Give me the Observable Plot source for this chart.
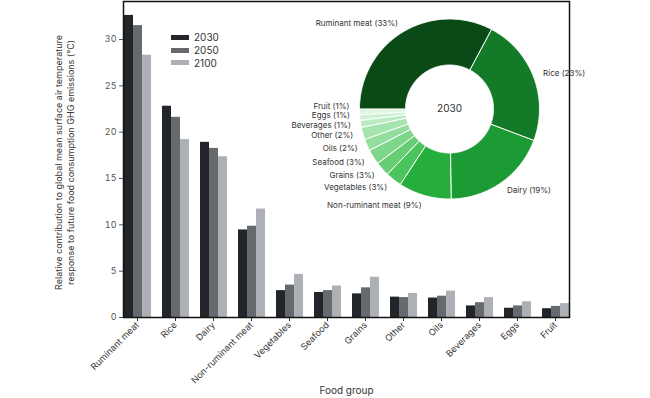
<!DOCTYPE html>
<html>
<head>
<meta charset="utf-8">
<script src="https://cdn.jsdelivr.net/npm/d3@7"></script>
<script src="https://cdn.jsdelivr.net/npm/@observablehq/plot@0.6"></script>
<style>
  body { margin: 0; background: #fff; }
  #wrap { position: relative; width: 650px; height: 398px; font-family: Inter, "Noto Sans", sans-serif; }
  #bars, #donut, #legend { position: absolute; }
  #bars { left: 0; top: 0; }
  #donut { left: 290px; top: 0; }
  #legend { left: 171px; top: 31px; font-size: 10px; color: #333; }
  .row { display: flex; align-items: center; height: 12.7px; }
  .sw { width: 18px; height: 5px; margin-right: 5px; }
</style>
</head>
<body>
<div id="wrap"><div id="bars"></div><div id="donut"></div><div id="legend"></div></div>
<script>
const categories = ["Ruminant meat", "Rice", "Dairy", "Non-ruminant meat", "Vegetables", "Seafood", "Grains", "Other", "Oils", "Beverages", "Eggs", "Fruit"];
const years = ["2030", "2050", "2100"];
const v2030 = [32.6, 22.8, 18.9, 9.45, 2.9, 2.7, 2.55, 2.2, 2.1, 1.25, 1.0, 0.95];
const v2050 = [31.5, 21.6, 18.25, 9.85, 3.5, 2.9, 3.2, 2.15, 2.3, 1.6, 1.25, 1.2];
const v2100 = [28.3, 19.2, 17.35, 11.7, 4.65, 3.4, 4.35, 2.6, 2.85, 2.15, 1.7, 1.5];
const yTicks = [0, 5, 10, 15, 20, 25, 30];
const yearColors = ["#222529", "#666a6f", "#adb1b6"];
// order of the slices in the 2030 donut (clockwise from 9 o'clock)
const donutOrder = ["Ruminant meat", "Rice", "Dairy", "Non-ruminant meat", "Vegetables", "Grains", "Seafood", "Oils", "Other", "Beverages", "Eggs", "Fruit"];
const greens = ["#0a4a16", "#137a27", "#1c9a33", "#25ae3c", "#4cc45e", "#66cd75", "#7dd68a", "#93dd9e", "#a6e4af", "#bbebc2", "#cdf1d2", "#dff6e2"];
const yLabel = "Relative contribution to global mean surface air temperature\nresponse to future food consumption GHG emissions (°C)";
const xLabel = "Food group";

const series = [v2030, v2050, v2100];
const rows = categories.flatMap((c, i) => years.map((yr, j) => ({category: c, year: yr, value: series[j][i]})));

const bars = Plot.plot({
  width: 650, height: 398,
  marginLeft: 99, marginRight: 57, marginTop: 1, marginBottom: 81,
  style: {fontFamily: "Inter, 'Noto Sans', sans-serif", fontSize: "9px", color: "#333", background: "transparent"},
  fx: {domain: categories, paddingInner: 0.26, paddingOuter: 0.6},
  x: {domain: years, padding: 0, axis: null},
  y: {domain: [0, 34.1]},
  color: {domain: years, range: yearColors},
  marks: [
    Plot.barY(rows, {fx: "category", x: "year", y: "value", fill: "year"}),
    Plot.axisFx({anchor: "bottom", tickRotate: -45, tickSize: 4, tickPadding: 2, label: null, fontSize: 9, color: "#333"}),
    Plot.axisY({ticks: yTicks, tickSize: 4, tickPadding: 3, label: null, color: "#555"}),
    Plot.text([yLabel], {text: d => d, frameAnchor: "left", rotate: -90, textAnchor: "middle", lineAnchor: "middle", dx: -59, dy: 3, lineHeight: 1.3, fontSize: 9, fill: "#333", facet: "super"}),
    Plot.text([xLabel], {text: d => d, frameAnchor: "bottom", lineAnchor: "middle", dy: 73, fontSize: 10, fill: "#333", facet: "super"}),
    Plot.frame({facet: "super", stroke: "#111", strokeWidth: 1.5})
  ]
});
document.getElementById("bars").append(bars);

// Donut (2030 shares)
const R = 90, R0 = 44, RL = 100;
const dValues = donutOrder.map(c => v2030[categories.indexOf(c)]);
const arcs = d3.pie().sort(null).startAngle(-Math.PI / 2).endAngle(1.5 * Math.PI)(dValues);
const slicePts = arcs.flatMap((a, i) => {
  const n = Math.max(2, Math.ceil((a.endAngle - a.startAngle) / 0.01));
  const pts = [];
  for (let k = 0; k <= n; k++) {
    const t = a.startAngle + (a.endAngle - a.startAngle) * k / n;
    pts.push({category: donutOrder[i], x: R * Math.sin(t), y: -R * Math.cos(t)});
  }
  for (let k = n; k >= 0; k--) {
    const t = a.startAngle + (a.endAngle - a.startAngle) * k / n;
    pts.push({category: donutOrder[i], x: R0 * Math.sin(t), y: -R0 * Math.cos(t)});
  }
  return pts;
});
const labels = arcs.map((a, i) => {
  const m = (a.startAngle + a.endAngle) / 2;
  return {text: `${donutOrder[i]} (${Math.round(dValues[i])}%)`, x: RL * Math.sin(m), y: -RL * Math.cos(m), right: Math.sin(m) > 0};
});
// keep crowded left-side labels apart (bottom to top)
const leftLabels = labels.filter(d => !d.right && d.y > 0).sort((a, b) => b.y - a.y);
for (let k = 1; k < leftLabels.length; k++) {
  leftLabels[k].y = Math.min(leftLabels[k].y, leftLabels[k - 1].y - 9.6);
}
const center = [{text: years[0], x: 0, y: 0}];

const donut = Plot.plot({
  width: 300, height: 212, margin: 0,
  style: {fontFamily: "Inter, 'Noto Sans', sans-serif", background: "transparent", color: "#333"},
  x: {domain: [-159, 141], range: [0, 300], axis: null},
  y: {domain: [-108.5, 103.5], range: [0, 212], axis: null},
  color: {domain: donutOrder, range: greens},
  marks: [
    Plot.line(slicePts, {x: "x", y: "y", z: "category", fill: "category", stroke: "white", strokeWidth: 1, curve: "linear-closed"}),
    Plot.text(labels.filter(d => !d.right), {x: "x", y: "y", text: "text", textAnchor: "end", fontSize: 8, fill: "#333"}),
    Plot.text(labels.filter(d => d.right), {x: "x", y: "y", text: "text", textAnchor: "start", fontSize: 8, fill: "#333"}),
    Plot.text(center, {x: "x", y: "y", text: "text", fontSize: 10, fill: "#333"})
  ]
});
document.getElementById("donut").append(donut);

// Legend
const legend = document.getElementById("legend");
years.forEach((yr, j) => {
  const row = document.createElement("div");
  row.className = "row";
  const sw = document.createElement("div");
  sw.className = "sw";
  sw.style.background = yearColors[j];
  const t = document.createElement("span");
  t.textContent = yr;
  row.append(sw, t);
  legend.append(row);
});
</script>
</body>
</html>
